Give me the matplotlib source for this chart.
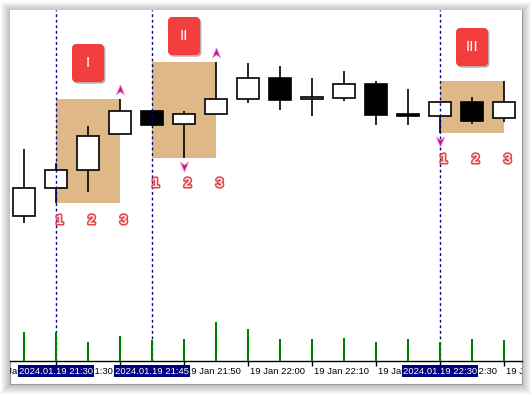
import matplotlib
matplotlib.use("Agg")
import matplotlib.pyplot as plt
import matplotlib.patheffects as pe
from matplotlib.path import Path
from matplotlib.patches import Rectangle
from matplotlib.transforms import ScaledTranslation
import numpy as np
import pandas as pd

# 5 minute bars, 19 Jan 2024
times = pd.date_range("2024-01-19 21:25", periods=16, freq="5min")
opens = [1.08784, 1.08812, 1.08830, 1.08866, 1.08889, 1.08876, 1.08886, 1.08901,
         1.08922, 1.08901, 1.08902, 1.08916, 1.08886, 1.08884, 1.08898, 1.08882]
highs = [1.08851, 1.08837, 1.08874, 1.08901, 1.08890, 1.08889, 1.08938, 1.08937,
         1.08934, 1.08922, 1.08929, 1.08919, 1.08911, 1.08898, 1.08903, 1.08919]
lows = [1.08777, 1.08797, 1.08808, 1.08866, 1.08874, 1.08842, 1.08886, 1.08897,
        1.08890, 1.08884, 1.08899, 1.08875, 1.08875, 1.08867, 1.08876, 1.08878]
closes = [1.08812, 1.08830, 1.08864, 1.08889, 1.08875, 1.08886, 1.08901, 1.08922,
          1.08900, 1.08903, 1.08916, 1.08885, 1.08884, 1.08898, 1.08879, 1.08898]
volumes = [348, 350, 228, 300, 252, 264, 468, 384, 264, 264, 276, 228, 264, 228, 264, 252]

# three-bar patterns found on the chart
pattern_starts = [1, 4, 13]
pattern_names = ["I", "II", "III"]
pattern_tag_y = [1.08937, 1.08964, 1.08953]
pattern_num_y = [1.08779, 1.08816, 1.08840]
up_arrows = [3, 6]
down_arrows = [5, 13]

W, H = 532, 395
fig = plt.figure(figsize=(W / 100, H / 100), dpi=100)
fig.patch.set_facecolor("white")

# window shadow + window
wl, wr, wt, wb = 10, 522, 10, 384
for k in range(1, 10):
    fig.patches.append(Rectangle(((wl - k) / W, (H - wb - k - 1) / H), (wr - wl + 2 * k) / W,
                                 (wb - wt + 2 * k) / H, transform=fig.transFigure,
                                 facecolor="black", alpha=0.028, lw=0, zorder=-3))
fig.patches.append(Rectangle((wl / W, (H - wb) / H), (wr - wl) / W, (wb - wt) / H,
                             transform=fig.transFigure, facecolor="white",
                             edgecolor="#9a9a9a", lw=0.8, zorder=-2))

ax = fig.add_axes([wl / W, (H - 361) / H, (wr - wl) / W, (361 - wt) / H])
x = np.arange(len(times))
ax.set_xlim(-0.4375, 15.5625)
ax.set_ylim(1.08639, 1.08990)
for s in ["top", "left", "right"]:
    ax.spines[s].set_visible(False)
ax.spines["bottom"].set_color("black")
ax.spines["bottom"].set_linewidth(1)
ax.set_xticks([])
ax.set_yticks([])

# pattern rectangles
for st in pattern_starts:
    hi = max(highs[st:st + 3])
    lo = min(lows[st:st + 3])
    ax.add_patch(Rectangle((x[st], lo), x[st + 2] - x[st], hi - lo,
                           facecolor="#DEB887", lw=0, zorder=1))

# candles
ax.vlines(x, lows, highs, color="black", lw=1.2, zorder=3)
o = np.array(opens)
c = np.array(closes)
body_col = ["white" if cc >= oo else "black" for oo, cc in zip(o, c)]
ax.bar(x, np.abs(c - o), bottom=np.minimum(o, c), width=0.69, color=body_col,
       edgecolor="black", lw=1.2, zorder=4)

# vertical separators
for st in pattern_starts:
    ax.axvline(x[st], color="#00008B", lw=1, ls=(0, (2, 2)), zorder=5)

# arrows
up = Path([(0, 1), (0.75, -0.8), (0, -0.25), (-0.75, -0.8), (0, 1)], closed=True)
down = Path([(0, -1), (0.75, 0.8), (0, 0.25), (-0.75, 0.8), (0, -1)], closed=True)
ax.plot(x[up_arrows], np.array(highs)[up_arrows] + 0.00009, ls="none", marker=up,
        ms=8, mfc="#C8128C", mec="#E89AD0", mew=0.6, zorder=6)
ax.plot(x[down_arrows], np.array(lows)[down_arrows] - 0.00008, ls="none", marker=down,
        ms=8, mfc="#C8128C", mec="#E89AD0", mew=0.6, zorder=6)


def rounded_box(w, h, r, n=6):
    verts = []
    for cx, cy, a0 in [(w / 2 - r, h / 2 - r, 0), (-w / 2 + r, h / 2 - r, 90),
                       (-w / 2 + r, -h / 2 + r, 180), (w / 2 - r, -h / 2 + r, 270)]:
        for a in np.linspace(a0, a0 + 90, n):
            verts.append((cx + r * np.cos(np.radians(a)), cy + r * np.sin(np.radians(a))))
    verts.append(verts[0])
    return Path(verts, closed=True)


tag = rounded_box(32, 38, 4)
for st, name, ty, ny in zip(pattern_starts, pattern_names, pattern_tag_y, pattern_num_y):
    ax.plot([x[st + 1]], [ty], ls="none", marker=tag, ms=27.4, mfc="#F23E3E", mew=0,
            zorder=7, path_effects=[pe.SimplePatchShadow(offset=(1, -1.2), alpha=0.35),
                                    pe.Normal()])
    ax.text(x[st + 1], ty, name, color="white", fontsize=11, family="Liberation Sans",
            ha="center", va="center", zorder=8)
    for k in range(3):
        ax.text(x[st + k], ny, str(k + 1), color="#FBE4E4", fontsize=9.5, fontweight="bold",
                family="Liberation Sans", ha="left", va="center", zorder=8,
                path_effects=[pe.withStroke(linewidth=2.2, foreground="#E6464B")])

# volumes
vax = ax.twinx()
vax.set_ylim(0, max(volumes) * 9)
vax.bar(x, volumes, width=0.09, color="#008000", zorder=2)
vax.axis("off")

# time scale
tax = fig.add_axes([wl / W, (H - wb) / H, (wr - wl) / W, (wb - 361) / H], sharex=ax)
tax.set_ylim(0, 1)
tax.axis("off")
tick_idx = np.arange(-1, 16, 2)
tick_times = times[0] + pd.to_timedelta(tick_idx * 5, unit="min")
tax.vlines(tick_idx, 1 - 5 / 23, 1, color="black", lw=1)
shift = ScaledTranslation(2 / 100, 0, fig.dpi_scale_trans)
for i, t in zip(tick_idx, tick_times):
    tax.text(i, 0.565, f"{t.day} {t:%b} {t:%H:%M}", fontsize=6.8, family="Liberation Sans",
             ha="left", va="center", clip_on=True, transform=tax.transData + shift)
for st in pattern_starts:
    tax.text(x[st], 0.565, f"{times[st]:%Y.%m.%d %H:%M}", fontsize=6.8, color="white",
             family="Liberation Sans", ha="center", va="center", zorder=5,
             bbox=dict(boxstyle="square,pad=0.12", facecolor="#000080", lw=0))

fig.savefig("out.png", dpi=100)
